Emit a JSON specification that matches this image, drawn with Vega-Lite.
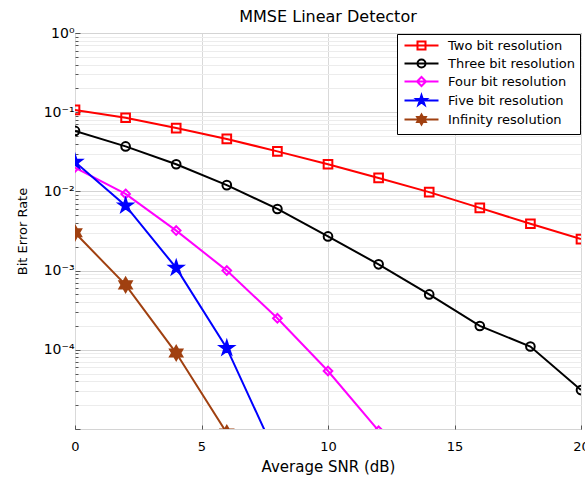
{
  "$schema": "https://vega.github.io/schema/vega-lite/v6.json",
  "autosize": {"type": "none"},
  "padding": {"left": 75, "top": 33, "right": 4, "bottom": 48},
  "width": 506,
  "height": 396,
  "background": "white",
  "title": {"text": "MMSE Linear Detector", "font": "DejaVu Sans", "fontSize": 16, "fontWeight": "normal", "color": "#000", "anchor": "middle", "baseline": "alphabetic", "offset": -12},
  "config": {
    "view": {"stroke": "#333", "strokeWidth": 1},
    "axis": {"labelFont": "DejaVu Sans", "titleFont": "DejaVu Sans", "labelColor": "#000", "titleColor": "#000", "titleFontWeight": "normal", "domain": false, "ticks": true, "tickColor": "#555", "tickSize": -4}
  },
  "data": {"values": [
    {"snr": 0, "ber": 0.107, "series": "Two bit resolution"},
    {"snr": 2, "ber": 0.085, "series": "Two bit resolution"},
    {"snr": 4, "ber": 0.063, "series": "Two bit resolution"},
    {"snr": 6, "ber": 0.046, "series": "Two bit resolution"},
    {"snr": 8, "ber": 0.032, "series": "Two bit resolution"},
    {"snr": 10, "ber": 0.022, "series": "Two bit resolution"},
    {"snr": 12, "ber": 0.0148, "series": "Two bit resolution"},
    {"snr": 14, "ber": 0.0098, "series": "Two bit resolution"},
    {"snr": 16, "ber": 0.0062, "series": "Two bit resolution"},
    {"snr": 18, "ber": 0.0039, "series": "Two bit resolution"},
    {"snr": 20, "ber": 0.0025, "series": "Two bit resolution"},
    {"snr": 0, "ber": 0.058, "series": "Three bit resolution"},
    {"snr": 2, "ber": 0.037, "series": "Three bit resolution"},
    {"snr": 4, "ber": 0.022, "series": "Three bit resolution"},
    {"snr": 6, "ber": 0.012, "series": "Three bit resolution"},
    {"snr": 8, "ber": 0.006, "series": "Three bit resolution"},
    {"snr": 10, "ber": 0.0027, "series": "Three bit resolution"},
    {"snr": 12, "ber": 0.0012, "series": "Three bit resolution"},
    {"snr": 14, "ber": 0.0005, "series": "Three bit resolution"},
    {"snr": 16, "ber": 0.0002, "series": "Three bit resolution"},
    {"snr": 18, "ber": 0.00011, "series": "Three bit resolution"},
    {"snr": 20, "ber": 0.000031, "series": "Three bit resolution"},
    {"snr": 0, "ber": 0.02, "series": "Four bit resolution"},
    {"snr": 2, "ber": 0.0093, "series": "Four bit resolution"},
    {"snr": 4, "ber": 0.0032, "series": "Four bit resolution"},
    {"snr": 6, "ber": 0.001, "series": "Four bit resolution"},
    {"snr": 8, "ber": 0.00025, "series": "Four bit resolution"},
    {"snr": 10, "ber": 0.000054, "series": "Four bit resolution"},
    {"snr": 12, "ber": 0.0000095, "series": "Four bit resolution"},
    {"snr": 0, "ber": 0.0235, "series": "Five bit resolution"},
    {"snr": 2, "ber": 0.0066, "series": "Five bit resolution"},
    {"snr": 4, "ber": 0.00108, "series": "Five bit resolution"},
    {"snr": 6, "ber": 0.000105, "series": "Five bit resolution"},
    {"snr": 8, "ber": 0.0000043, "series": "Five bit resolution"},
    {"snr": 0, "ber": 0.003, "series": "Infinity resolution"},
    {"snr": 2, "ber": 0.00066, "series": "Infinity resolution"},
    {"snr": 4, "ber": 0.000091, "series": "Infinity resolution"},
    {"snr": 6, "ber": 0.0000089, "series": "Infinity resolution"}
  ]},
  "encoding": {
    "x": {"field": "snr", "type": "quantitative", "title": "Average SNR (dB)",
      "scale": {"domain": [0, 20], "nice": false},
      "axis": {"values": [0, 5, 10, 15, 20], "labelFontSize": 13, "labelPadding": 15, "titleFontSize": 15, "titlePadding": 6, "gridColor": "#d9d9d9", "labelFlush": false}},
    "y": {"field": "ber", "type": "quantitative", "title": "Bit Error Rate",
      "scale": {"type": "log", "domain": [0.00001, 1], "nice": false},
      "axis": {
        "values": [0.00001, 0.00002, 0.00003, 0.00004, 0.00005, 0.00006, 0.00007, 0.00008, 0.00009, 0.0001, 0.0002, 0.0003, 0.0004, 0.0005, 0.0006, 0.0007, 0.0008, 0.0009, 0.001, 0.002, 0.003, 0.004, 0.005, 0.006, 0.007, 0.008, 0.009, 0.01, 0.02, 0.03, 0.04, 0.05, 0.06, 0.07, 0.08, 0.09, 0.1, 0.2, 0.3, 0.4, 0.5, 0.6, 0.7, 0.8, 0.9, 1],
        "labelExpr": "datum.value >= 0.99 ? '10⁰' : (abs(datum.value - 0.1) < 0.001 ? '10⁻¹' : (abs(datum.value - 0.01) < 0.0001 ? '10⁻²' : (abs(datum.value - 0.001) < 0.00001 ? '10⁻³' : (abs(datum.value - 0.0001) < 0.000001 ? '10⁻⁴' : ''))))",
        "labelFontSize": 14, "labelPadding": 6, "titleFontSize": 13, "titlePadding": 14,
        "gridColor": {"condition": {"test": "abs(log(datum.value)/log(10) - round(log(datum.value)/log(10))) < 0.001", "value": "#d4d4d4"}, "value": "#ececec"},
        "tickSize": {"condition": {"test": "abs(log(datum.value)/log(10) - round(log(datum.value)/log(10))) < 0.001", "value": -5}, "value": -3}
      }}
  },
  "layer": [
    {"mark": {"type": "line", "strokeWidth": 2, "clip": true},
      "encoding": {
        "color": {"field": "series", "type": "nominal",
          "scale": {"domain": ["Two bit resolution", "Three bit resolution", "Four bit resolution", "Five bit resolution", "Infinity resolution"], "range": ["#ff0000", "#000000", "#ff00ff", "#0000ff", "#a04010"]},
          "legend": {
            "title": null, "orient": "top-right", "offset": 1, "padding": 5,
            "fillColor": "white", "strokeColor": "#000",
            "labelFont": "DejaVu Sans", "labelFontSize": 13, "labelColor": "#000",
            "symbolSize": 100, "symbolOffset": 13, "labelOffset": 20, "rowPadding": 1,
            "encode": {"symbols": {"update": {
              "shape": {"signal": "'M-3.4,0H3.4' + (datum.value === 'Two bit resolution' ? 'M-0.8,-0.8H0.8V0.8H-0.8Z' : datum.value === 'Three bit resolution' ? 'M-0.8,0A0.8,0.8,0,1,1,0.8,0A0.8,0.8,0,1,1,-0.8,0Z' : datum.value === 'Four bit resolution' ? 'M0,-0.9L0.9,0L0,0.9L-0.9,0Z' : datum.value === 'Five bit resolution' ? 'M0,-1.05L0.24,-0.32L1.0,-0.32L0.38,0.12L0.62,0.85L0,0.4L-0.62,0.85L-0.38,0.12L-1.0,-0.32L-0.24,-0.32Z' : 'M0,-1.0L0.29,-0.5L0.87,-0.5L0.58,0L0.87,0.5L0.29,0.5L0,1.0L-0.29,0.5L-0.87,0.5L-0.58,0L-0.87,-0.5L-0.29,-0.5Z')"},
              "fillOpacity": {"signal": "(datum.value === 'Five bit resolution' || datum.value === 'Infinity resolution') ? 1 : 0"},
              "strokeWidth": {"value": 2}
            }}}
          }}
      }},
    {"mark": {"type": "point", "filled": true, "strokeWidth": 2, "clip": true, "opacity": 1},
      "encoding": {
        "color": {"field": "series", "type": "nominal",
          "scale": {"domain": ["Two bit resolution", "Three bit resolution", "Four bit resolution", "Five bit resolution", "Infinity resolution"], "range": ["#ff0000", "#000000", "#ff00ff", "#0000ff", "#a04010"]},
          "legend": null},
        "stroke": {"field": "series", "type": "nominal",
          "scale": {"domain": ["Two bit resolution", "Three bit resolution", "Four bit resolution", "Five bit resolution", "Infinity resolution"], "range": ["#ff0000", "#000000", "#ff00ff", "#0000ff", "#a04010"]},
          "legend": null},
        "shape": {"field": "series", "type": "nominal", "sort": null,
          "scale": {"range": ["M-1,-1H1V1H-1Z", "M-1,0A1,1,0,1,1,1,0A1,1,0,1,1,-1,0Z", "M0,-1L1,0L0,1L-1,0Z", "M0,-1L0.225,-0.309L0.951,-0.309L0.363,0.118L0.588,0.809L0,0.382L-0.588,0.809L-0.363,0.118L-0.951,-0.309L-0.225,-0.309Z", "M0,-1L0.289,-0.5L0.866,-0.5L0.577,0L0.866,0.5L0.289,0.5L0,1L-0.289,0.5L-0.866,0.5L-0.577,0L-0.866,-0.5L-0.289,-0.5Z"]},
          "legend": null},
        "fillOpacity": {"condition": {"test": "datum.series === 'Five bit resolution' || datum.series === 'Infinity resolution'", "value": 1}, "value": 0},
        "size": {"condition": {"test": "datum.series === 'Five bit resolution' || datum.series === 'Infinity resolution'", "value": 200}, "value": 75}
      }}
  ]
}
